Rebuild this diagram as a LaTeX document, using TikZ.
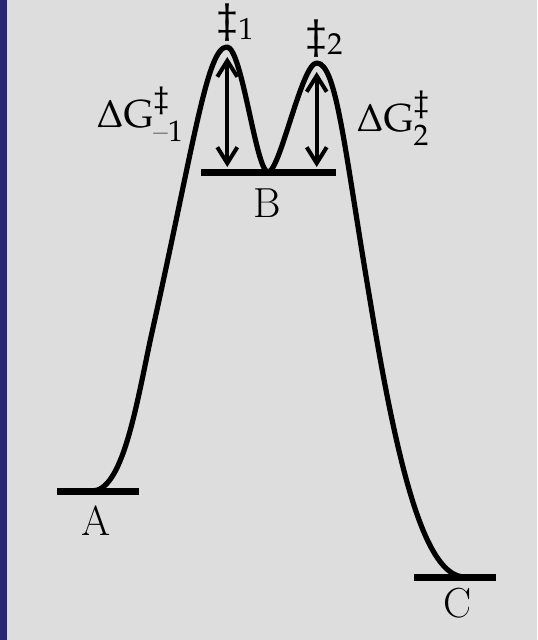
\documentclass[tikz,border=0pt]{standalone}
\usepackage{amsmath, amssymb}
\usepackage{mathpazo}
\usepackage{xcolor}
\usepackage{tikz}
\usetikzlibrary{arrows.meta}

\definecolor{slidegray}{RGB}{221,221,221}
\definecolor{slidenavy}{RGB}{38,38,115}

\tikzset{
  level/.style={line width=3.5pt},
  profile/.style={line width=2.6pt, line join=round},
  barrier/.style={line width=2pt, {Straight Barb[length=8pt,width=10pt]}-{Straight Barb[length=8pt,width=10pt]}},
  statelbl/.style={font=\fontsize{21}{24}\selectfont, inner sep=0pt, anchor=base},
  tslbl/.style={font=\fontsize{20}{24}\selectfont, inner sep=0pt, anchor=base west},
  gaplbl/.style={font=\fontsize{19.5}{24}\selectfont, inner sep=0pt, anchor=base west}
}

\begin{document}
\begin{tikzpicture}[x=0.5pt, y=-0.5pt]
        % Slide background
        \fill[slidegray] (0,0) rectangle (537,640);
        \fill[slidenavy] (0,0) rectangle (7,640);
        \useasboundingbox (0,0) rectangle (537,640);
        % Energy levels
        \coordinate (A1) at (57,491);  \coordinate (A2) at (139,491);
        \coordinate (B1) at (201,173); \coordinate (B2) at (336,173);
        \coordinate (C1) at (414,577); \coordinate (C2) at (496,577);
        \draw[level] (A1) -- (A2);
        \draw[level] (B1) -- (B2);
        \draw[level] (C1) -- (C2);
        % Stationary points of the profile
        \coordinate (startA) at (92,491);
        \coordinate (ts1) at (227,47);
        \coordinate (minB) at (268,172);
        \coordinate (ts2) at (316.7,63);
        \coordinate (endC) at (465,577);
        % Reaction profile
        \draw[profile] (startA)
          .. controls (122,491) and (135.6,410) .. (150.3,340)
          .. controls (194.9,140) and (207,47) .. (ts1)
          .. controls (242,47) and (256,172) .. (minB)
          .. controls (280,172) and (301.7,63) .. (ts2)
          .. controls (336.7,63) and (344.5,150) .. (370,300)
          .. controls (398,470) and (425,577) .. (endC);
        % Barrier heights
        \coordinate (top1) at (227.3,57);  \coordinate (bot1) at (227.3,167);
        \coordinate (top2) at (316.7,72);  \coordinate (bot2) at (316.7,167);
        \draw[barrier] (top1) -- (bot1);
        \draw[barrier] (top2) -- (bot2);
        % Labels
        \node[statelbl] (labA) at (96,535) {A};
        \node[statelbl] (labB) at (267,218) {B};
        \node[statelbl] (labC) at (458,617) {C};
        \node[tslbl] (labts1) at (217,32) {$\ddagger_1$};
        \node[tslbl] (labts2) at (306,48) {$\ddagger_2$};
        \node[gaplbl] (labdg1) at (96,128) {$\Delta\mathrm{G}^{\ddagger}_{\text{--}1}$};
        \node[gaplbl] (labdg2) at (356,132) {$\Delta\mathrm{G}^{\ddagger}_{2}$};
      \end{tikzpicture}
\end{document}
